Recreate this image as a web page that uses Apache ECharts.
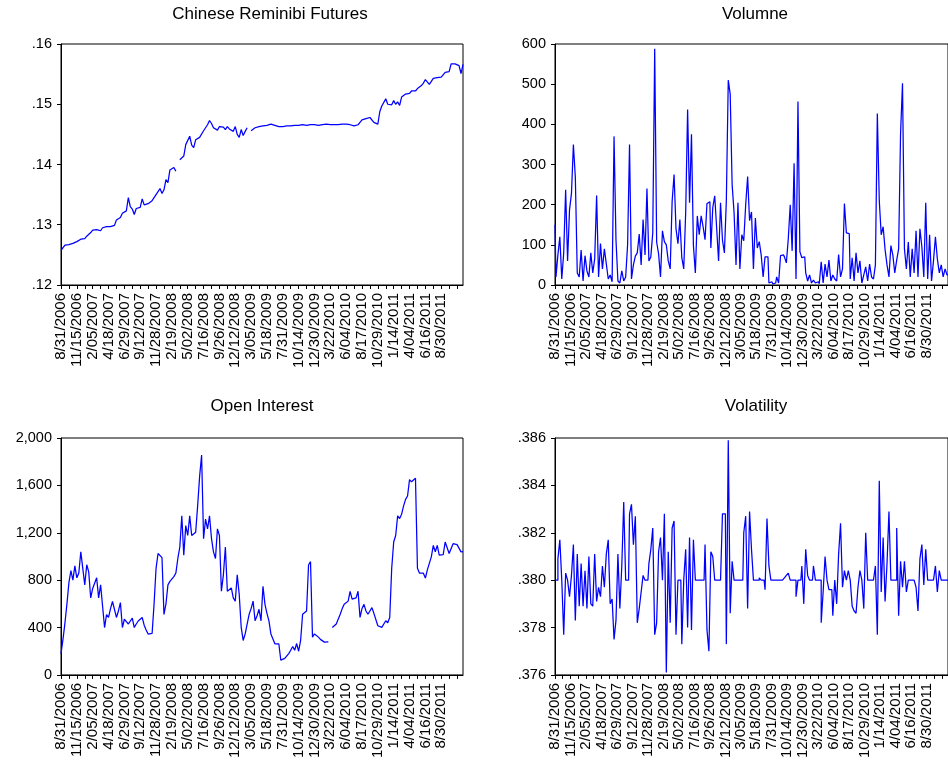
<!DOCTYPE html>
<html><head><meta charset="utf-8">
<script src="https://cdn.jsdelivr.net/npm/echarts@6/dist/echarts.min.js"></script>
<style>html,body{margin:0;padding:0;background:#fff}#c{width:948px;height:761px}</style>
</head><body><div id="c"></div><script>
const xLabels = ['8/31/2006','11/15/2006','2/05/2007','4/18/2007','6/29/2007','9/12/2007','11/28/2007','2/19/2008','5/02/2008','7/16/2008','9/26/2008','12/12/2008','3/05/2009','5/18/2009','7/31/2009','10/14/2009','12/30/2009','3/22/2010','6/04/2010','8/17/2010','10/29/2010','1/14/2011','4/04/2011','6/16/2011','8/30/2011'];

const price = [
 .1257,.1262,.1266,.1264,.1267,.1266,.1269,.1270,
 .1272,.1274,.1276,.1278,.1277,.1281,.1280,.1287,
 .1291,.1290,.1292,.1293,.1290,.1295,.1294,.1297,
 .1300,.1297,.1295,.1299,.1308,.1306,.1312,.1319,
 .1318,.1323,.1345,.1330,.1326,.1317,.1327,.1328,
 .1329,.1343,.1333,.1330,.1335,.1336,.1340,.1345,
 .1347,.1355,.1360,.1352,.1358,.1375,.1370,.1391,
 .1392,.1395,.1389,null,.1408,.1410,.1414,.1433,
 .1430,.1447,.1432,.1428,.1441,.1438,.1445,.1447,
 .1456,.1461,.1466,.1473,.1468,.1461,.1464,.1457,
 .1463,.1460,.1462,.1458,.1463,.1459,.1461,.1455,
 .1463,.1450,.1445,.1458,.1448,.1455,.1461,null,
 .1456,.1459,.1461,.1462,.1463,.1462,.1464,.1465,
 .1465,.1466,.1467,.1466,.1465,.1463,.1463,.1464,
 .1463,.1463,.1464,.1464,.1464,.1465,.1465,.1465,
 .1465,.1466,.1466,.1466,.1465,.1466,.1466,.1466,
 .1466,.1466,.1465,.1466,.1466,.1466,.1467,.1466,
 .1466,.1467,.1466,.1467,.1466,.1467,.1467,.1466,
 .1467,.1470,.1466,.1467,.1464,.1463,.1466,.1470,
 .1474,.1477,.1476,.1477,.1478,.1476,.1470,.1468,
 .1467,.1488,.1497,.1499,.1509,.1500,.1503,.1499,
 .1506,.1500,.1504,.1498,.1512,.1510,.1517,.1519,
 .1518,.1522,.1523,.1522,.1526,.1528,.1531,.1535,
 .1541,.1540,.1533,.1538,.1543,.1545,.1544,.1546,
 .1545,.1548,.1553,.1555,.1554,.1567,.1568,.1567,
 .1566,.1564,.1551,.1566];

const volume = [
 150,20,75,120,15,80,237,60,
 187,228,350,268,30,20,87,10,
 73,35,20,80,30,65,223,20,
 103,40,90,53,15,25,8,370,
 112,10,5,35,10,20,100,350,
 15,50,72,80,127,50,163,75,
 240,60,70,130,588,107,78,20,
 135,108,100,60,40,208,275,140,
 103,163,68,40,180,437,205,375,
 98,30,172,125,172,145,113,203,
 207,92,193,222,142,60,205,112,
 80,210,510,475,250,180,50,205,
 40,125,110,200,270,160,182,40,
 167,92,108,75,20,70,70,5,
 8,3,5,20,5,73,75,70,
 55,115,200,85,303,15,457,83,
 68,70,30,10,25,5,12,5,
 8,3,58,5,52,20,62,10,
 25,15,10,76,20,40,203,130,
 128,15,68,10,80,30,60,5,
 25,45,10,52,20,15,50,427,
 210,125,145,88,50,20,98,75,
 30,62,90,378,502,90,40,107,
 20,90,30,135,20,140,95,20,
 205,15,125,10,60,120,65,30,
 50,20,40,25];

const openInterest = [
 180,300,440,600,780,880,800,920,
 820,860,1040,900,760,930,870,650,
 730,735,820,650,760,760,400,510,
 485,560,620,625,485,540,610,400,
 470,450,430,440,480,400,430,455,
 470,485,420,380,345,346,350,600,
 900,1025,1010,990,510,600,760,790,
 800,830,860,983,1080,1343,1011,1260,
 1177,1343,1177,1170,1205,1427,1676,1856,
 1150,1316,1233,1343,1150,1039,983,1233,
 1177,706,845,1080,706,720,734,650,
 623,845,679,402,291,346,346,512,
 560,623,457,500,554,457,748,596,
 520,457,346,330,263,263,263,125,
 125,140,150,180,208,240,208,265,
 200,291,512,520,540,928,956,319,
 346,330,319,300,290,277,270,280,
 null,400,410,430,440,512,560,596,
 600,623,706,640,640,651,706,485,
 560,596,540,512,540,568,520,512,
 415,400,402,410,457,440,485,900,
 1122,1177,1343,1320,1357,1427,1482,1510,
 1649,1630,1635,1660,900,860,870,859,
 817,887,900,997,1094,1040,1094,1011,
 1011,1015,1122,1120,1025,1030,1108,1105,
 1100,1090,1039,1040];

const volatility = [
 .380,.380,.3809,.3817,.380,.3777,.3803,.380,
 .3793,.3802,.3815,.3783,.3811,.3789,.3807,.3789,
 .3804,.3788,.3810,.3790,.3789,.3811,.3791,.3797,
 .3793,.3806,.3797,.3811,.3817,.3790,.3792,.3775,
 .3783,.3811,.3788,.3806,.3833,.380,.380,.3828,
 .3832,.3815,.3827,.3782,.3788,.3795,.3802,.380,
 .380,.3807,.3813,.3822,.3777,.3782,.3812,.3818,
 .380,.3828,.3761,.3812,.3782,.3822,.3825,.3777,
 .380,.380,.3773,.380,.3813,.3780,.3818,.3779,
 .3817,.380,.380,.380,.380,.380,.3815,.3779,
 .3770,.3812,.3810,.380,.380,.380,.380,.3828,
 .3828,.3773,.3859,.3786,.3808,.380,.380,.380,
 .380,.380,.3820,.3827,.3788,.3829,.3813,.380,
 .380,.380,.3801,.380,.380,.3796,.3826,.3806,
 .380,.380,.380,.380,.380,.380,.380,.3801,
 .3802,.3803,.380,.380,.380,.3793,.380,.380,
 .3806,.3790,.3813,.3802,.380,.380,.3806,.380,
 .380,.380,.3782,.3795,.3810,.380,.3796,.3796,
 .3785,.380,.3790,.3811,.3824,.3797,.3804,.380,
 .3804,.380,.3789,.3787,.3786,.3797,.3804,.380,
 .3788,.3820,.380,.380,.380,.380,.3806,.3777,
 .3842,.3795,.3818,.3791,.3807,.3829,.380,.380,
 .380,.3822,.3785,.3808,.3797,.3808,.3795,.380,
 .380,.380,.380,.3797,.3787,.3809,.3815,.3798,
 .3813,.380,.380,.380,.380,.3806,.3795,.3804,
 .380,.380,.380,.380];

const titles = ['Chinese Reminibi Futures','Volumne','Open Interest','Volatility'];

const FONT = 'Arial, "Liberation Sans", sans-serif';
const PER_LABEL = 8;
const cats = price.map((_, i) => String(i));

const grids = [
  {left:61, top:44, width:402, height:241},
  {left:555, top:44, width:402, height:241},
  {left:61, top:438, width:402, height:241},
  {left:555, top:438, width:402, height:241}
].map(g => Object.assign(g, {show:true, borderColor:'#000', borderWidth:1, backgroundColor:'transparent'}));

function xAxis(gi){
  return {type:'category', gridIndex:gi, data:cats, boundaryGap:false,
    axisLine:{show:true, onZero:false, lineStyle:{color:'#000', width:1}},
    axisTick:{show:true, interval:3, length:4, lineStyle:{color:'#000'}},
    axisLabel:{interval:PER_LABEL-1, rotate:90, margin:8, fontSize:15, fontFamily:FONT, color:'#000',
      formatter:(v, i) => (i % PER_LABEL === 0 && i / PER_LABEL < xLabels.length) ? xLabels[i / PER_LABEL] : ''},
    splitLine:{show:false}};
}
function yAxis(gi, min, max, interval, fmt){
  return {type:'value', gridIndex:gi, min, max, interval,
    axisLine:{show:true, lineStyle:{color:'#000', width:1}},
    axisTick:{show:true, length:4, lineStyle:{color:'#000'}},
    axisLabel:{fontSize:14.5, fontFamily:FONT, color:'#000', margin:9, formatter:fmt},
    splitLine:{show:false}};
}
const dec = d => v => v.toFixed(d).replace(/^0/, '');
const comma = v => v.toLocaleString('en-US');

const titleCenters = [[270,6],[755,6],[262,398],[756,398]];

function line(gi, data, step){
  return {type:'line', xAxisIndex:gi, yAxisIndex:gi, data, showSymbol:false, symbol:'none', step:step || false,
    lineStyle:{color:'#0000ff', width:1.25}, itemStyle:{color:'#0000ff'}, animation:false, connectNulls:false};
}

const chart = echarts.init(document.getElementById('c'));
chart.setOption({
  animation:false,
  backgroundColor:'#fff',
  title: titles.map((t, k) => ({text:t, left:titleCenters[k][0], top:titleCenters[k][1], textAlign:'center', padding:0,
    textStyle:{fontSize:17, fontWeight:'normal', fontFamily:FONT, color:'#000'}})),
  grid: grids,
  xAxis: [0,1,2,3].map(xAxis),
  yAxis: [
    yAxis(0, 0.12, 0.16, 0.01, dec(2)),
    yAxis(1, 0, 600, 100, v => String(v)),
    yAxis(2, 0, 2000, 400, comma),
    yAxis(3, 0.376, 0.386, 0.002, dec(3))
  ],
  series: [line(0, price), line(1, volume, 'middle'), line(2, openInterest), line(3, volatility, 'middle')]
});
</script></body></html>
